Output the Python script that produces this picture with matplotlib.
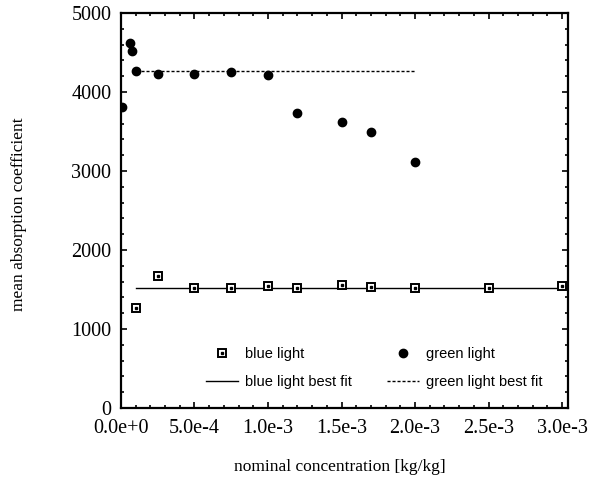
import numpy as np
import matplotlib.pyplot as plt
from matplotlib.ticker import MultipleLocator
from matplotlib.legend_handler import HandlerTuple

# =========================
# DATA
# =========================
green_x = [1e-5, 6e-5, 7.5e-5, 1e-4, 2.5e-4, 5e-4, 7.5e-4, 1.0e-3, 1.2e-3, 1.5e-3, 1.7e-3, 2.0e-3]
green_y = [3815, 4625, 4520, 4270, 4232, 4228, 4257, 4211, 3730, 3616, 3494, 3114]

blue_x = [1e-4, 2.5e-4, 5e-4, 7.5e-4, 1.0e-3, 1.2e-3, 1.5e-3, 1.7e-3, 2.0e-3, 2.5e-3, 3.0e-3]
blue_y = [1266, 1675, 1523, 1523, 1544, 1523, 1561, 1536, 1519, 1519, 1548]

green_fit_x = [1e-4, 2.0e-3]
green_fit_y = [4265, 4265]
blue_fit_x = [1e-4, 3.05e-3]
blue_fit_y = [1518, 1518]

xticks = [0, 5e-4, 1e-3, 1.5e-3, 2e-3, 2.5e-3, 3e-3]
xticklabels = ["0.0e+0", "5.0e-4", "1.0e-3", "1.5e-3", "2.0e-3", "2.5e-3", "3.0e-3"]

# =========================
# FIGURE
# =========================
fig = plt.figure(figsize=(5.89, 4.93), dpi=100)
ax = fig.add_axes([0.2054, 0.1724, 0.7589, 0.8012])

serif = "Liberation Serif"
sans = "Liberation Sans"

# fits
bfit, = ax.plot(blue_fit_x, blue_fit_y, color="black", lw=1.0)
gfit, = ax.plot(green_fit_x, green_fit_y, color="black", lw=1.0, dashes=(2.2, 1.4))

# points
sq, = ax.plot(blue_x, blue_y, "s", ms=6, mfc="white", mec="black", mew=1.4, ls="none")
dot, = ax.plot(blue_x, blue_y, "s", ms=2, mfc="black", mec="black", ls="none")
gp, = ax.plot(green_x, green_y, "o", ms=6, color="black", ls="none")

ax.set_xlim(0, 3.04e-3)
ax.set_ylim(0, 5000)

ax.set_xticks(xticks)
ax.set_xticklabels(xticklabels, fontfamily=serif, fontsize=14.5)
ax.xaxis.set_minor_locator(MultipleLocator(1e-4))
ax.yaxis.set_major_locator(MultipleLocator(1000))
ax.yaxis.set_minor_locator(MultipleLocator(200))
for lab in ax.get_yticklabels():
    lab.set_fontfamily(serif)
    lab.set_fontsize(14.5)

ax.tick_params(which="both", direction="in", top=True, right=True, width=1.2)
ax.tick_params(which="major", length=4.5)
ax.tick_params(which="minor", length=2.5)
ax.tick_params(axis="x", pad=8)
ax.tick_params(axis="y", pad=7)

for s in ax.spines.values():
    s.set_linewidth(1.6)

ax.set_xlabel("nominal concentration [kg/kg]", fontfamily=serif, fontsize=12.5)
ax.xaxis.set_label_coords(0.49, -0.13)
ax.set_ylabel("mean absorption coefficient", fontfamily=serif, fontsize=12.5,
              va="center", ha="center")
ax.yaxis.set_label_coords(-0.228, 0.49)

# =========================
# LEGEND
# =========================
leg = ax.legend([(sq, dot), bfit, gp, gfit],
                ["blue light", "blue light best fit", "green light", "green light best fit"],
                handler_map={tuple: HandlerTuple(ndivide=1)}, numpoints=1,
                ncol=2, frameon=False, loc="lower left",
                bbox_to_anchor=(0.16, 0.015), prop={"family": sans, "size": 10.5},
                handlelength=2.2, handletextpad=0.5, columnspacing=2.4, labelspacing=0.95)

fig.savefig("out.png", dpi=100)
